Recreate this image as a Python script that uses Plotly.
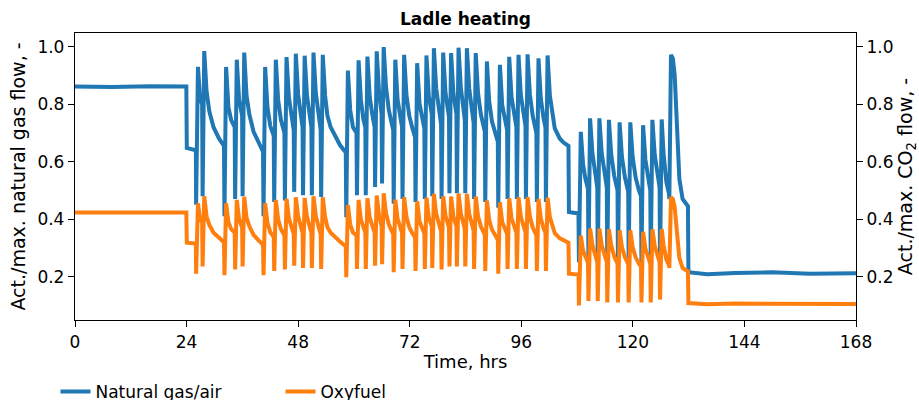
import plotly.graph_objects as go

# Ladle heating: actual/max flow of the natural gas/air burner and the oxyfuel (CO2) burner
hours = [
    0.0, 8.0, 16.0, 23.95,
    24.05, 26.0,
    26.05, 26.45, 26.9, 27.35,
    27.45, 27.8, 28.3, 28.9, 29.8, 31.0, 32.05,
    32.15, 32.5, 33.0, 33.6, 34.35,
    34.45, 34.8, 35.3, 35.95,
    36.05, 36.4, 36.9, 37.5, 38.4, 39.5, 40.45,
    40.55, 40.9, 41.4, 42.0, 42.75,
    42.85, 43.2, 43.7, 44.3, 45.05,
    45.15, 45.5, 46.0, 46.6, 47.05,
    47.15, 47.5, 48.0, 48.5, 48.95,
    49.05, 49.4, 49.9, 50.4, 50.85,
    50.95, 51.3, 51.8, 52.3, 52.85,
    52.95, 53.3, 53.8, 54.3, 55.0, 55.9, 57.0, 58.25,
    58.35, 58.7, 59.2, 59.8, 60.55,
    60.65, 61.0, 61.5, 62.0, 62.45,
    62.55, 62.9, 63.4, 64.0, 64.45,
    64.55, 64.9, 65.4, 65.95,
    66.05, 66.4, 66.9, 67.5, 68.1, 68.45,
    68.55, 68.9, 69.4, 70.0, 70.35,
    70.45, 70.8, 71.3, 71.9, 72.6, 73.15,
    73.25, 73.6, 74.1, 74.7, 75.15,
    75.25, 75.6, 76.1, 76.75,
    76.85, 77.2, 77.7, 78.3, 78.75,
    78.85, 79.2, 79.7, 80.45,
    80.55, 80.9, 81.4, 82.05,
    82.15, 82.5, 83.0, 83.55, 83.85,
    83.95, 84.3, 84.8, 85.35, 85.75,
    85.85, 86.2, 86.7, 87.3, 88.15,
    88.25, 88.6, 89.1, 89.7, 90.4, 90.95,
    91.05, 91.4, 91.9, 92.5, 92.95,
    93.05, 93.4, 93.9, 94.5, 94.95,
    95.05, 95.4, 95.9, 96.5, 96.9,
    97.0, 97.35, 97.85, 98.45, 99.25,
    99.35, 99.7, 100.2, 100.8, 101.2,
    101.3, 101.65, 102.15, 102.6, 103.2, 104.3, 105.2, 106.15,
    106.25, 108.3,
    108.4, 108.8, 109.3, 109.8, 110.35,
    110.45, 110.8, 111.3, 111.9, 112.35,
    112.45, 112.8, 113.3, 113.9, 114.4,
    114.5, 114.85, 115.35, 116.0, 116.7,
    116.8, 117.15, 117.65, 118.3, 119.0,
    119.1, 119.45, 119.95, 120.6, 121.3, 121.75,
    121.85, 122.2, 122.7, 123.3, 123.75,
    123.85, 124.2, 124.7, 125.3, 125.75,
    125.85, 126.2, 126.6, 127.2, 127.75,
    127.85, 128.2, 128.6, 129.0, 129.4, 129.7, 130.0, 130.7, 131.85,
    131.95, 136.0, 142.0, 150.0, 158.0, 168.0,
]

natural_gas = [
    0.862, 0.860, 0.863, 0.862,
    0.648, 0.640,
    0.45, 0.93, 0.82, 0.80,
    0.48, 0.985, 0.845, 0.775, 0.72, 0.68, 0.655,
    0.41, 0.93, 0.79, 0.745, 0.72,
    0.47, 0.955, 0.815, 0.76,
    0.48, 0.98, 0.83, 0.765, 0.705, 0.665, 0.635,
    0.41, 0.93, 0.79, 0.725, 0.69,
    0.46, 0.955, 0.815, 0.745, 0.70,
    0.465, 0.964, 0.825, 0.755, 0.71,
    0.495, 0.976, 0.835, 0.765, 0.72,
    0.483, 0.969, 0.83, 0.76, 0.72,
    0.483, 0.98, 0.84, 0.765, 0.71,
    0.477, 0.972, 0.83, 0.76, 0.72, 0.69, 0.658, 0.632,
    0.407, 0.917, 0.78, 0.72, 0.70,
    0.483, 0.953, 0.815, 0.75, 0.72,
    0.483, 0.966, 0.826, 0.76, 0.72,
    0.512, 0.984, 0.845, 0.765,
    0.524, 0.999, 0.86, 0.78, 0.735, 0.71,
    0.454, 0.955, 0.815, 0.75, 0.72,
    0.47, 0.972, 0.832, 0.76, 0.715, 0.685,
    0.46, 0.943, 0.803, 0.74, 0.715,
    0.47, 0.97, 0.83, 0.765,
    0.48, 0.995, 0.855, 0.78, 0.73,
    0.47, 0.98, 0.84, 0.755,
    0.49, 0.978, 0.838, 0.765,
    0.49, 0.997, 0.857, 0.775, 0.745,
    0.49, 0.995, 0.855, 0.775, 0.735,
    0.47, 0.978, 0.838, 0.765, 0.705,
    0.46, 0.949, 0.81, 0.74, 0.70, 0.67,
    0.44, 0.937, 0.797, 0.735, 0.71,
    0.47, 0.965, 0.825, 0.755, 0.72,
    0.47, 0.972, 0.832, 0.76, 0.725,
    0.47, 0.974, 0.834, 0.76, 0.70,
    0.46, 0.96, 0.82, 0.75, 0.72,
    0.46, 0.97, 0.83, 0.77, 0.716, 0.68, 0.665, 0.655,
    0.425, 0.42,
    0.25, 0.704, 0.59, 0.54, 0.505,
    0.25, 0.751, 0.63, 0.555, 0.51,
    0.25, 0.751, 0.63, 0.555, 0.51,
    0.25, 0.746, 0.625, 0.55, 0.50,
    0.25, 0.737, 0.617, 0.545, 0.495,
    0.25, 0.737, 0.617, 0.545, 0.50, 0.48,
    0.25, 0.727, 0.607, 0.54, 0.50,
    0.25, 0.746, 0.625, 0.55, 0.51,
    0.25, 0.747, 0.63, 0.53, 0.49,
    0.47, 0.972, 0.96, 0.90, 0.77, 0.70, 0.54, 0.47, 0.445,
    0.215, 0.208, 0.213, 0.215, 0.21, 0.212,
]

oxyfuel = [
    0.423, 0.422, 0.424, 0.423,
    0.318, 0.315,
    0.21, 0.455, 0.40, 0.39,
    0.235, 0.48, 0.41, 0.38, 0.353, 0.333, 0.32,
    0.205, 0.455, 0.39, 0.365, 0.353,
    0.225, 0.467, 0.40, 0.372,
    0.235, 0.478, 0.405, 0.375, 0.345, 0.326, 0.311,
    0.205, 0.455, 0.387, 0.355, 0.338,
    0.22, 0.467, 0.40, 0.365, 0.343,
    0.225, 0.471, 0.404, 0.37, 0.348,
    0.238, 0.476, 0.41, 0.375, 0.353,
    0.23, 0.474, 0.407, 0.372, 0.353,
    0.23, 0.48, 0.41, 0.375, 0.348,
    0.227, 0.476, 0.407, 0.372, 0.353, 0.338, 0.322, 0.305,
    0.198, 0.449, 0.382, 0.353, 0.343,
    0.227, 0.467, 0.398, 0.368, 0.353,
    0.227, 0.473, 0.405, 0.372, 0.353,
    0.238, 0.482, 0.414, 0.375,
    0.243, 0.49, 0.421, 0.382, 0.36, 0.348,
    0.215, 0.468, 0.40, 0.368, 0.353,
    0.227, 0.476, 0.408, 0.372, 0.35, 0.336,
    0.22, 0.462, 0.393, 0.363, 0.35,
    0.227, 0.475, 0.407, 0.375,
    0.23, 0.488, 0.419, 0.382, 0.358,
    0.225, 0.48, 0.412, 0.37,
    0.235, 0.479, 0.41, 0.375,
    0.235, 0.489, 0.42, 0.38, 0.365,
    0.235, 0.488, 0.419, 0.38, 0.36,
    0.227, 0.479, 0.41, 0.375, 0.345,
    0.22, 0.465, 0.397, 0.363, 0.343, 0.328,
    0.21, 0.459, 0.39, 0.36, 0.348,
    0.227, 0.473, 0.404, 0.37, 0.353,
    0.227, 0.476, 0.408, 0.372, 0.355,
    0.227, 0.477, 0.409, 0.372, 0.343,
    0.22, 0.47, 0.402, 0.368, 0.353,
    0.22, 0.475, 0.407, 0.377, 0.351, 0.333, 0.326, 0.318,
    0.21, 0.207,
    0.10, 0.343, 0.29, 0.265, 0.248,
    0.115, 0.367, 0.31, 0.272, 0.25,
    0.115, 0.367, 0.31, 0.272, 0.25,
    0.11, 0.365, 0.307, 0.27, 0.245,
    0.11, 0.361, 0.303, 0.267, 0.243,
    0.11, 0.361, 0.303, 0.267, 0.245, 0.235,
    0.11, 0.356, 0.298, 0.265, 0.245,
    0.11, 0.365, 0.307, 0.27, 0.25,
    0.12, 0.366, 0.31, 0.26, 0.24,
    0.23, 0.476, 0.47, 0.44, 0.377, 0.343, 0.265, 0.23, 0.218,
    0.108, 0.104, 0.106, 0.105, 0.104, 0.105,
]

x_ticks = [0, 24, 48, 72, 96, 120, 144, 168]
y_ticks = [0.2, 0.4, 0.6, 0.8, 1.0]
y_range = [0.049, 1.048]

BLUE = "#1f77b4"
ORANGE = "#ff7f0e"
FONT = "DejaVu Sans"

fig = go.Figure()
fig.add_trace(go.Scatter(
    x=hours, y=natural_gas, mode="lines", name="Natural gas/air",
    line=dict(color=BLUE, width=4), yaxis="y",
))
fig.add_trace(go.Scatter(
    x=hours, y=oxyfuel, mode="lines", name="Oxyfuel",
    line=dict(color=ORANGE, width=4), yaxis="y2",
))

axis_common = dict(
    showline=True, linecolor="black", linewidth=1.3,
    ticks="outside", ticklen=6, tickwidth=1.3, tickcolor="black",
    showgrid=False, zeroline=False, automargin=False,
    tickfont=dict(family=FONT, size=17, color="black"),
)

fig.update_layout(
    width=919, height=400,
    margin=dict(l=75, r=63, t=33, b=80, autoexpand=False),
    plot_bgcolor="white", paper_bgcolor="white",
    font=dict(family=FONT, size=17, color="black"),
    title=dict(
        text="<b>Ladle heating</b>", x=0.5, xref="paper", xanchor="center",
        y=1 - 19 / 400, yref="container", yanchor="middle",
        font=dict(family=FONT, size=17, color="black"),
    ),
    xaxis=dict(
        range=[0, 168], tickvals=x_ticks, mirror=True,
        title=dict(text="Time, hrs", font=dict(family=FONT, size=18), standoff=4),
        **axis_common,
    ),
    yaxis=dict(
        range=y_range, tickvals=y_ticks, tickformat=".1f",
        title=dict(text="Act./max. natural gas flow, -", font=dict(family=FONT, size=19), standoff=6),
        **axis_common,
    ),
    yaxis2=dict(
        range=y_range, tickvals=y_ticks, tickformat=".1f",
        overlaying="y", side="right",
        title=dict(text="Act./max. CO<sub>2</sub> flow, -", font=dict(family=FONT, size=19), standoff=6),
        **axis_common,
    ),
    legend=dict(
        orientation="h", x=-0.025, xanchor="left", y=-0.251, yanchor="middle",
        entrywidth=180, font=dict(family=FONT, size=17, color="black"),
        bgcolor="rgba(0,0,0,0)",
    ),
    showlegend=True,
)

fig.write_html("out.html")
